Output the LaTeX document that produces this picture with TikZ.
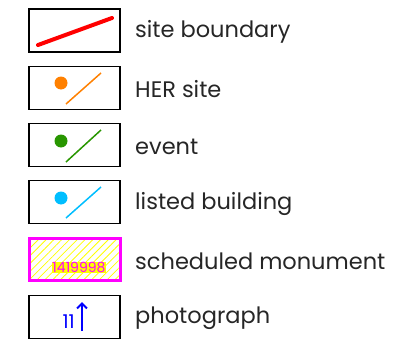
\documentclass[tikz,border=0pt]{standalone}
\usepackage{fontspec}
\setmainfont{Poppins}
\usetikzlibrary{patterns.meta,arrows.meta}
\definecolor{herorange}{RGB}{255,128,0}
\definecolor{evgreen}{RGB}{40,150,0}
\definecolor{lbblue}{RGB}{0,190,255}
\definecolor{smmag}{RGB}{255,0,255}
\definecolor{smyel}{RGB}{255,255,0}
\definecolor{phblue}{RGB}{0,0,255}
\begin{document}
\begin{tikzpicture}[x=1pt,y=-1pt,
  box/.style={draw=black,line width=1.8pt,minimum width=91pt,minimum height=43pt,inner sep=0pt},
  lab/.style={anchor=west,font=\fontsize{22.5}{26}\selectfont,text=black!85,inner sep=0pt},
  dotsym/.style={circle,inner sep=0pt,minimum size=13pt},
  sym/.style={line width=1.5pt}]
\useasboundingbox (0,0) rectangle (413,348);
% boxes
\node[box] (b1) at (74.5,30.5) {};
\node[box] (b2) at (74.5,88) {};
\node[box] (b3) at (74.5,145) {};
\node[box] (b4) at (74.5,202) {};
\node[draw=smmag,line width=3.5pt,minimum width=91pt,minimum height=42pt,inner sep=0pt,
  pattern={Lines[angle=45,distance=5.5pt,line width=0.8pt]},pattern color=smyel] (b5) at (75,259.5) {};
\node[box] (b6) at (74.5,317) {};
% site boundary
\coordinate (r1) at (38,45);
\coordinate (r2) at (112,18);
\draw[red,line width=4pt,line cap=round] (r1) -- (r2);
% HER site
\node[dotsym,fill=herorange] (d2) at (61,83) {};
\coordinate (o1) at (66,104); \coordinate (o2) at (101,73);
\draw[sym,herorange] (o1) -- (o2);
% event
\node[dotsym,fill=evgreen] (d3) at (61,141) {};
\coordinate (g1) at (66,162); \coordinate (g2) at (101,130);
\draw[sym,evgreen] (g1) -- (g2);
% listed building
\node[dotsym,fill=lbblue] (d4) at (61,198) {};
\coordinate (l1) at (66,218); \coordinate (l2) at (101,187);
\draw[sym,lbblue] (l1) -- (l2);
% scheduled monument
\node[fill=smyel,text=smmag,inner sep=0.5pt,font=\fontsize{14}{16}\selectfont] (sm) at (79,267.5) {1419998};
% photograph
\node[text=phblue,inner sep=0pt,font=\fontsize{19}{21}\selectfont,anchor=east] (n11) at (75,321.5) {11};
\coordinate (a1) at (82,331); \coordinate (a2) at (82,302);
\draw[phblue,line width=2pt,-{Straight Barb[length=5pt,width=10pt,line width=2pt]}] (a1) -- (a2);
% labels
\node[lab] (t1) at (135,31.5) {site boundary};
\node[lab] (t2) at (135,89.5) {HER site};
\node[lab] (t3) at (135,146.5) {event};
\node[lab] (t4) at (135,203.5) {listed building};
\node[lab] (t5) at (135,261.5) {scheduled monument};
\node[lab] (t6) at (135,318.5) {photograph};
\end{tikzpicture}
\end{document}
